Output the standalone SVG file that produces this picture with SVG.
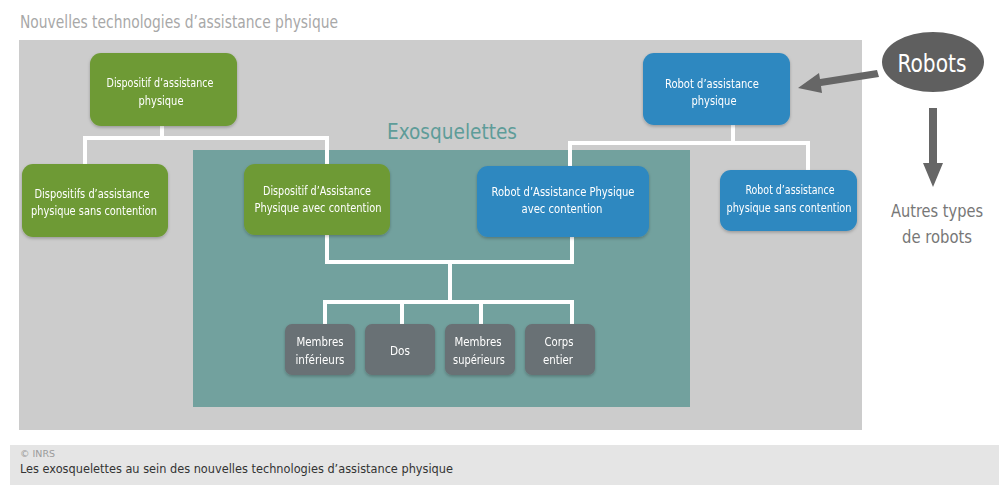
<svg xmlns="http://www.w3.org/2000/svg" width="999" height="489" viewBox="0 0 999 489">
<style>
text{font-family:"Liberation Sans Narrow","DejaVu Sans Condensed","Liberation Sans",sans-serif}
.t{fill:#fff;font-size:13px;text-anchor:middle}
.g{fill:#6e9a35}
.b{fill:#2e88c0}
.k{fill:#697174}
.c{fill:none;stroke:#fff;stroke-width:4;stroke-linejoin:miter}
.sh{filter:url(#sh)}
</style>
<defs>
<filter id="sh" x="-10%" y="-10%" width="120%" height="130%"><feDropShadow dx="0" dy="1.5" stdDeviation="1.5" flood-color="#000" flood-opacity="0.25"/></filter>
</defs>
<rect width="999" height="489" fill="#fff"/>
<text x="20" y="28" textLength="318" lengthAdjust="spacingAndGlyphs" style="font-size:18px;fill:#a8a8a8">Nouvelles technologies d’assistance physique</text>
<rect x="19" y="40" width="843" height="390" fill="#cccccc"/>
<rect x="193" y="150" width="497" height="257" fill="#72a19e"/>
<text x="452" y="139" textLength="130" lengthAdjust="spacingAndGlyphs" style="font-size:22px;fill:#5e9c99;text-anchor:middle">Exosquelettes</text>
<g id="connectors">
<path class="c" d="M162,126 V138 M85,164 V138 H327 V164"/>
<path class="c" d="M733,125 V143 M570,166 V143 H808 V170"/>
<path class="c" d="M327,235 V262 H572 V237 M450,262 V302 M325,324 V302 H572 V324 M402,302 V324 M481,302 V324"/>
<path d="M877,70 L820,79 L819,73 L798,88 L822,93 L821,86 L879,77 Z" fill="#666"/>
<path d="M929,108 H937 V163 H943 L933,187 L923,163 H929 Z" fill="#666"/>
</g>
<g id="n1" class="sh"><rect class="g" x="90" y="53" width="147" height="73" rx="11"/><text class="t" x="160" y="87" textLength="107" lengthAdjust="spacingAndGlyphs">Dispositif d’assistance</text><text class="t" x="161" y="105" textLength="45" lengthAdjust="spacingAndGlyphs">physique</text></g>
<g id="n2" class="sh"><rect class="g" x="22" y="164" width="146" height="73" rx="11"/><text class="t" x="92" y="198" textLength="115" lengthAdjust="spacingAndGlyphs">Dispositifs d’assistance</text><text class="t" x="94" y="215" textLength="126" lengthAdjust="spacingAndGlyphs">physique sans contention</text></g>
<g id="n3" class="sh"><rect class="g" x="244" y="164" width="146" height="71" rx="11"/><text class="t" x="317" y="195" textLength="108" lengthAdjust="spacingAndGlyphs">Dispositif d’Assistance</text><text class="t" x="318" y="212" textLength="127" lengthAdjust="spacingAndGlyphs">Physique avec contention</text></g>
<g id="n4" class="sh"><rect class="b" x="643" y="53" width="147" height="72" rx="11"/><text class="t" x="712" y="88" textLength="94" lengthAdjust="spacingAndGlyphs">Robot d’assistance</text><text class="t" x="714" y="105" textLength="45" lengthAdjust="spacingAndGlyphs">physique</text></g>
<g id="n5" class="sh"><rect class="b" x="477" y="166" width="172" height="71" rx="11"/><text class="t" x="563" y="196" textLength="143" lengthAdjust="spacingAndGlyphs">Robot d’Assistance Physique</text><text class="t" x="562" y="213" textLength="81" lengthAdjust="spacingAndGlyphs">avec contention</text></g>
<g id="n6" class="sh"><rect class="b" x="720" y="170" width="137" height="61" rx="11"/><text class="t" x="790" y="194" textLength="89" lengthAdjust="spacingAndGlyphs">Robot d’assistance</text><text class="t" x="789" y="212" textLength="125" lengthAdjust="spacingAndGlyphs">physique sans contention</text></g>
<g id="m1" class="sh"><rect class="k" x="285" y="324" width="70" height="51" rx="7"/><text class="t" x="320" y="346" textLength="47" lengthAdjust="spacingAndGlyphs">Membres</text><text class="t" x="320" y="364" textLength="49" lengthAdjust="spacingAndGlyphs">inférieurs</text></g>
<g id="m2" class="sh"><rect class="k" x="365" y="324" width="70" height="51" rx="7"/><text class="t" x="400" y="355" textLength="20" lengthAdjust="spacingAndGlyphs">Dos</text></g>
<g id="m3" class="sh"><rect class="k" x="445" y="324" width="70" height="51" rx="7"/><text class="t" x="478" y="346" textLength="47" lengthAdjust="spacingAndGlyphs">Membres</text><text class="t" x="479" y="364" textLength="52" lengthAdjust="spacingAndGlyphs">supérieurs</text></g>
<g id="m4" class="sh"><rect class="k" x="525" y="324" width="70" height="51" rx="7"/><text class="t" x="559" y="346" textLength="29" lengthAdjust="spacingAndGlyphs">Corps</text><text class="t" x="558" y="364" textLength="30" lengthAdjust="spacingAndGlyphs">entier</text></g>
<g id="robots"><ellipse cx="933" cy="62" rx="51" ry="30" fill="#5f5f5f"/><text x="932" y="72" textLength="69" lengthAdjust="spacingAndGlyphs" style="font-size:25px;fill:#fff;text-anchor:middle">Robots</text></g>
<g id="autres"><text x="937" y="217" textLength="92" lengthAdjust="spacingAndGlyphs" style="font-size:18px;fill:#777;text-anchor:middle">Autres types</text><text x="937" y="243" textLength="70" lengthAdjust="spacingAndGlyphs" style="font-size:18px;fill:#777;text-anchor:middle">de robots</text></g>
<rect x="10" y="445" width="989" height="40" fill="#e5e5e5"/>
<text x="20" y="457" textLength="35" lengthAdjust="spacingAndGlyphs" style="font-size:9px;fill:#9a9a9a">© INRS</text>
<text x="20" y="473" textLength="433" lengthAdjust="spacingAndGlyphs" style="font-size:13px;fill:#333">Les exosquelettes au sein des nouvelles technologies d’assistance physique</text>
</svg>
